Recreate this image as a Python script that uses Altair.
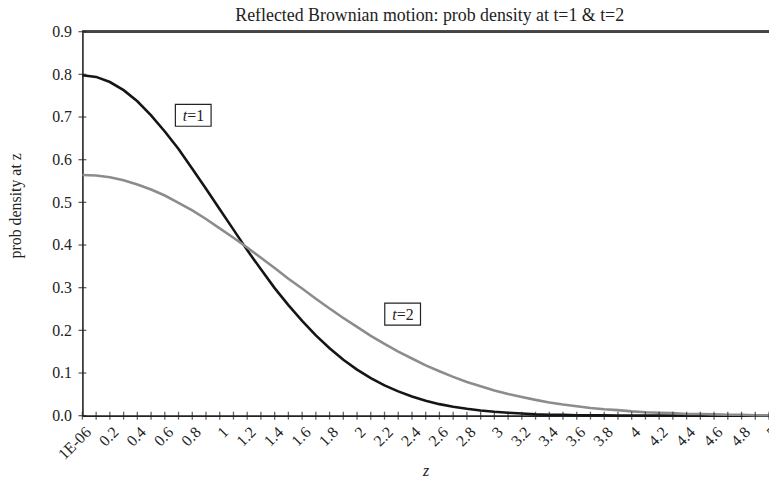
import altair as alt
import pandas as pd

# category positions (z) and the two density series
z = [0.000001, 0.1, 0.2, 0.3, 0.4, 0.5, 0.6, 0.7, 0.8, 0.9,
     1.0, 1.1, 1.2, 1.3, 1.4, 1.5, 1.6, 1.7, 1.8, 1.9,
     2.0, 2.1, 2.2, 2.3, 2.4, 2.5, 2.6, 2.7, 2.8, 2.9,
     3.0, 3.1, 3.2, 3.3, 3.4, 3.5, 3.6, 3.7, 3.8, 3.9,
     4.0, 4.1, 4.2, 4.3, 4.4, 4.5, 4.6, 4.7, 4.8, 4.9, 5.0]

dens_t1 = [0.798, 0.794, 0.782, 0.763, 0.737, 0.704, 0.666, 0.625, 0.579, 0.532,
           0.484, 0.436, 0.388, 0.343, 0.299, 0.259, 0.222, 0.188, 0.158, 0.131,
           0.108, 0.088, 0.071, 0.057, 0.045, 0.035, 0.027, 0.021, 0.016, 0.012,
           0.009, 0.007, 0.005, 0.003, 0.002, 0.002, 0.001, 0.001, 0.001, 0.000,
           0.000, 0.000, 0.000, 0.000, 0.000, 0.000, 0.000, 0.000, 0.000, 0.000, 0.000]

dens_t2 = [0.564, 0.563, 0.559, 0.552, 0.542, 0.530, 0.516, 0.499, 0.481, 0.461,
           0.439, 0.417, 0.394, 0.370, 0.346, 0.321, 0.298, 0.274, 0.251, 0.229,
           0.208, 0.187, 0.168, 0.150, 0.134, 0.118, 0.104, 0.091, 0.079, 0.069,
           0.059, 0.051, 0.044, 0.037, 0.031, 0.026, 0.022, 0.018, 0.015, 0.013,
           0.010, 0.008, 0.007, 0.006, 0.004, 0.004, 0.003, 0.002, 0.002, 0.001, 0.001]

series_names = ["t=1", "t=2"]
series_colors = ["#151515", "#8c8c8c"]

y_ticks = [0.0, 0.1, 0.2, 0.3, 0.4, 0.5, 0.6, 0.7, 0.8, 0.9]

ann_text = ["=1", "=2"]
ann_z = [0.807, 2.332]
ann_p = [0.704, 0.238]

FONT = "Liberation Serif"

df = pd.DataFrame({
    "z": z * 2,
    "density": dens_t1 + dens_t2,
    "series": [series_names[0]] * len(z) + [series_names[1]] * len(z),
})
df_ticks_x = pd.DataFrame({"z": z})
df_ticks_y = pd.DataFrame({"p": y_ticks})
df_ann = pd.DataFrame({"text": ann_text, "z": ann_z, "p": ann_p})

xscale = alt.Scale(domain=[0, 5], nice=False, zero=False)
yscale = alt.Scale(domain=[0, 0.9], nice=False)

label_expr = ("datum.value < 0.01 ? '1E-06' : "
              "(round(datum.value*10) % 2 == 0 ? format(datum.value, '~g') : '')")

common_axis = dict(labelFont=FONT, labelFontSize=16, labelColor="#222222",
                   titleFont=FONT, titleFontSize=16, titleColor="#222222",
                   titleFontWeight="normal", grid=False, ticks=False, tickSize=0,
                   domainColor="#222222", domainWidth=1.6)

xaxis = alt.Axis(values=z, labelExpr=label_expr, labelAngle=-45,
                 labelFlush=False, labelOverlap=False, labelPadding=8,
                 title="z", titleFontStyle="italic", titlePadding=0, **common_axis)
yaxis = alt.Axis(values=y_ticks, format=".1f", labelPadding=11,
                 title="prob density at z", titleX=-67, titleY=175,
                 titleAngle=-90, titleAlign="center", titleBaseline="middle",
                 **common_axis)

X = alt.X("z:Q", scale=xscale, axis=xaxis, title="z")
Y_d = alt.Y("density:Q", scale=yscale, axis=yaxis, title="prob density at z")
Y_p = alt.Y("p:Q", scale=yscale, axis=yaxis, title="prob density at z")

lines = alt.Chart(df).mark_line(strokeWidth=2.6).encode(
    x=X,
    y=Y_d,
    color=alt.Color("series:N", scale=alt.Scale(domain=series_names, range=series_colors),
                    legend=None),
)

top_rule = alt.Chart(df_ticks_y).mark_rule(color="#444444", strokeWidth=2).encode(
    y=alt.YDatum(0.9, scale=yscale, axis=yaxis, title="prob density at z"),
)

xticks = alt.Chart(df_ticks_x).mark_tick(orient="vertical", size=8, thickness=1.3,
                                         color="#222222").encode(
    x=X,
    y=alt.YDatum(0, scale=yscale, axis=yaxis, title="prob density at z"),
)

yticks = alt.Chart(df_ticks_y).mark_tick(orient="horizontal", size=8, thickness=1.3,
                                         color="#222222").encode(
    y=Y_p,
    x=alt.XDatum(0, scale=xscale, axis=xaxis, title="z"),
)

boxes = alt.Chart(df_ann).mark_rect(width=36, height=22, fill="white",
                                     stroke="#222222", strokeWidth=1.2).encode(
    x=X, y=Y_p,
)

ann_t = alt.Chart(df_ann).mark_text(text="t", font=FONT, fontSize=16, fontStyle="italic",
                                    align="right", baseline="middle", dx=-6, dy=1,
                                    color="#222222").encode(
    x=X, y=Y_p,
)

ann_rest = alt.Chart(df_ann).mark_text(font=FONT, fontSize=16, align="left",
                                       baseline="middle", dx=-6, dy=1,
                                       color="#222222").encode(
    x=X, y=Y_p,
    text="text:N",
)

chart = alt.layer(top_rule, lines, xticks, yticks, boxes, ann_t, ann_rest).properties(
    width=692, height=387,
    padding={"left": 75, "top": 22, "right": 0, "bottom": 66},
    autosize=alt.AutoSizeParams(type="none"),
    background="white",
    title=alt.Title("Reflected Brownian motion: prob density at t=1 & t=2",
                    font=FONT, fontSize=18, fontWeight="normal", color="#222222",
                    anchor="middle", baseline="alphabetic", offset=2, dx=4, dy=17),
).configure_view(stroke=None)

chart.save("out.html", embed_options={"renderer": "svg", "actions": False})
